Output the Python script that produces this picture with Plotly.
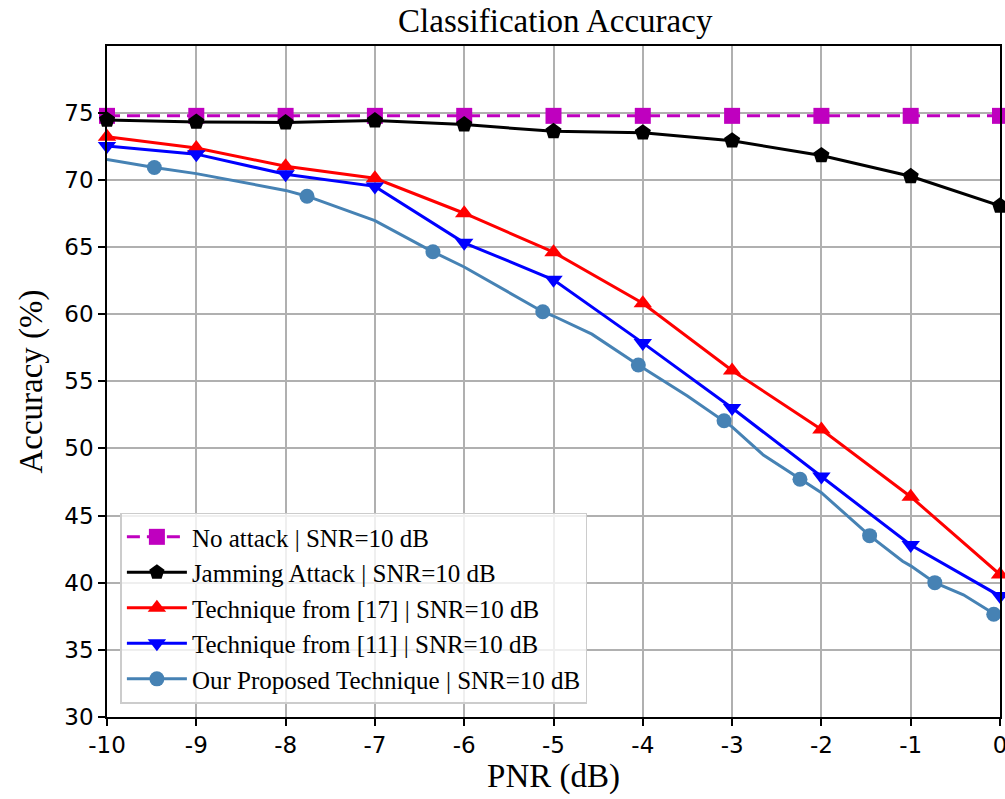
import plotly.graph_objects as go

# ---------------- data ----------------
pnr = [-10, -9, -8, -7, -6, -5, -4, -3, -2, -1, 0]
x_tick_labels = ["-10", "-9", "-8", "-7", "-6", "-5", "-4", "-3", "-2", "-1", "0"]
y_ticks = [30, 35, 40, 45, 50, 55, 60, 65, 70, 75]

no_attack = [74.75, 74.75, 74.75, 74.75, 74.75, 74.75, 74.75, 74.75, 74.75, 74.75, 74.75]
jamming = [74.45, 74.3, 74.25, 74.4, 74.1, 73.6, 73.5, 72.9, 71.8, 70.25, 68.05]
tech17 = [73.2, 72.35, 71.0, 70.1, 67.5, 64.6, 60.8, 55.8, 51.4, 46.4, 40.6]
tech11 = [72.5, 71.9, 70.4, 69.5, 65.3, 62.55, 57.85, 53.0, 47.9, 42.8, 39.0]

prop_x = [-10, -9.47, -9, -8, -7.76, -7, -6.35, -6, -5.12, -5, -4.57, -4.05, -3.5,
          -3.09, -3, -2.65, -2.24, -2, -1.46, -1.09, -1, -0.73, -0.41, -0.07, 0]
prop_y = [71.5, 70.9, 70.45, 69.2, 68.77, 66.95, 64.63, 63.5, 60.17, 59.85, 58.5, 56.2, 53.9,
          52.05, 51.6, 49.5, 47.7, 46.7, 43.5, 41.6, 41.25, 40.0, 39.1, 37.65, 37.4]
prop_is_marker = [False, True, False, False, True, False, True, False, True, False, False, True, False,
                  True, False, False, True, False, True, False, False, True, False, True, False]

names = [
    "No attack | SNR=10 dB",
    "Jamming Attack | SNR=10 dB",
    "Technique from [17] | SNR=10 dB",
    "Technique from [11] | SNR=10 dB",
    "Our Proposed Technique | SNR=10 dB",
]

# ---------------- styles ----------------
MAGENTA = "#BF00BF"
STEEL = "#4682B4"
SERIF = "Liberation Serif, Times New Roman, serif"
SANS = "DejaVu Sans, sans-serif"

fig = go.Figure()

fig.add_trace(go.Scatter(
    x=pnr, y=no_attack, name=names[0], mode="lines+markers", legendgroup="g0",
    line=dict(color=MAGENTA, width=3, dash="13px,7px"),
    marker=dict(symbol="square", size=16, color=MAGENTA), cliponaxis=False,
))
fig.add_trace(go.Scatter(
    x=pnr, y=jamming, name=names[1], mode="lines+markers", legendgroup="g1",
    line=dict(color="black", width=3),
    marker=dict(symbol="pentagon", size=17, color="black"), cliponaxis=False,
))
fig.add_trace(go.Scatter(
    x=pnr, y=tech17, name=names[2], mode="lines+markers", legendgroup="g2",
    line=dict(color="#FF0000", width=3),
    marker=dict(symbol="triangle-up", size=16, color="#FF0000"), cliponaxis=False,
))
fig.add_trace(go.Scatter(
    x=pnr, y=tech11, name=names[3], mode="lines+markers", legendgroup="g3",
    line=dict(color="#0000FF", width=3),
    marker=dict(symbol="triangle-down", size=16, color="#0000FF"), cliponaxis=False,
))

# proposed technique: line through all points, markers at a subset
mx = [x for x, m in zip(prop_x, prop_is_marker) if m]
my = [y for y, m in zip(prop_y, prop_is_marker) if m]
fig.add_trace(go.Scatter(
    x=prop_x, y=prop_y, mode="lines", showlegend=False, legendgroup="g4",
    line=dict(color=STEEL, width=3), hoverinfo="skip",
))
fig.add_trace(go.Scatter(
    x=mx, y=my, mode="markers", showlegend=False, legendgroup="g4",
    marker=dict(symbol="circle", size=15, color=STEEL), cliponaxis=False,
))
fig.add_trace(go.Scatter(
    x=[None], y=[None], name=names[4], mode="lines+markers", legendgroup="g4",
    line=dict(color=STEEL, width=3),
    marker=dict(symbol="circle", size=15, color=STEEL),
))

axis_common = dict(
    showgrid=True, gridcolor="#b0b0b0", gridwidth=1.5,
    showline=True, linecolor="black", linewidth=1.5, mirror=True,
    ticks="outside", ticklen=7, tickwidth=1.5, tickcolor="black",
    tickfont=dict(family=SANS, size=23, color="black"),
    zeroline=False, automargin=False, ticklabeloverflow="allow",
)

fig.update_layout(
    width=1005, height=799,
    paper_bgcolor="white", plot_bgcolor="white",
    margin=dict(l=107, r=5, t=46, b=82),
    title=dict(text="Classification Accuracy", x=0.5525, xanchor="center",
               y=0.974, yanchor="middle", yref="container",
               font=dict(family=SERIF, size=33, color="black")),
    xaxis=dict(range=[-10, 0], tickvals=pnr, ticktext=x_tick_labels,
               title=dict(text="PNR (dB)", font=dict(family=SERIF, size=33, color="black"), standoff=2),
               **axis_common),
    yaxis=dict(range=[30, 79.95], tickvals=y_ticks,
               title=dict(text="Accuracy (%)", font=dict(family=SERIF, size=33, color="black"), standoff=12),
               **axis_common),
    legend=dict(x=0.015, y=0.02, xanchor="left", yanchor="bottom",
                bgcolor="rgba(255,255,255,0.8)", bordercolor="#cccccc", borderwidth=1.5,
                font=dict(family=SERIF, size=25, color="black"),
                tracegroupgap=0, itemwidth=60),
    showlegend=True,
)

fig.write_html("out.html", config={"displayModeBar": False},
               post_script="document.body.style.margin='0px';")
